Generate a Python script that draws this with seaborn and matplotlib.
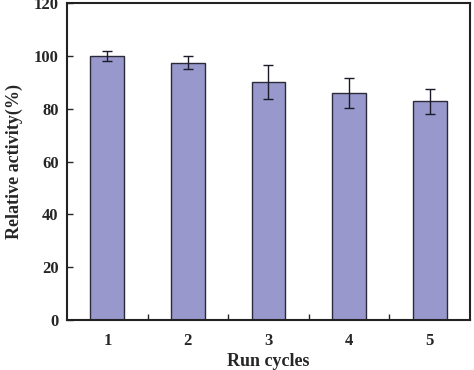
import matplotlib
matplotlib.use("Agg")
import matplotlib.pyplot as plt
import seaborn as sns
import pandas as pd
from matplotlib.ticker import MultipleLocator

cycles = ["1", "2", "3", "4", "5"]
activity = [100.0, 97.4, 90.2, 86.0, 82.8]
errors = [1.8, 2.4, 6.5, 5.6, 4.8]

sns.set_style("ticks")
plt.rcParams["font.family"] = ["Liberation Serif", "DejaVu Serif"]
plt.rcParams["font.weight"] = "bold"

df = pd.DataFrame({"cycle": cycles, "activity": activity})

fig = plt.figure(figsize=(4.74, 3.70), dpi=100)
ax = fig.add_axes([0.1414, 0.135, 0.850, 0.857])
sns.barplot(data=df, x="cycle", y="activity", color="#9898CC", saturation=1,
            width=0.42, edgecolor="#2a2a3a", linewidth=1.0, errorbar=None, ax=ax)
ax.errorbar(range(len(cycles)), activity, yerr=errors, fmt="none",
            ecolor="#1a1a2a", elinewidth=1.0, capsize=3.5, capthick=1.0)

ax.set_xlim(-0.5, len(cycles) - 0.5)
ax.set_ylim(0, 120)
ax.yaxis.set_major_locator(MultipleLocator(20))
ax.set_xticks(range(len(cycles)))
ax.set_xticks([i + 0.5 for i in range(len(cycles) - 1)], minor=True)
ax.tick_params(axis="x", which="major", length=0, pad=9, labelsize=12)
ax.tick_params(axis="x", which="minor", direction="in", length=4, width=1)
ax.tick_params(axis="y", direction="in", length=4, width=1, labelsize=12, pad=6)
for lbl in ax.get_xticklabels() + ax.get_yticklabels():
    lbl.set_fontweight("bold")
for s in ax.spines.values():
    s.set_linewidth(1.5)
    s.set_color("#222222")
    s.set_visible(True)
ax.set_xlabel("Run cycles", fontsize=13, fontweight="bold", labelpad=3)
ax.set_ylabel("Relative activity(%)", fontsize=13, fontweight="bold", labelpad=8)

fig.savefig("out.png", dpi=100)
